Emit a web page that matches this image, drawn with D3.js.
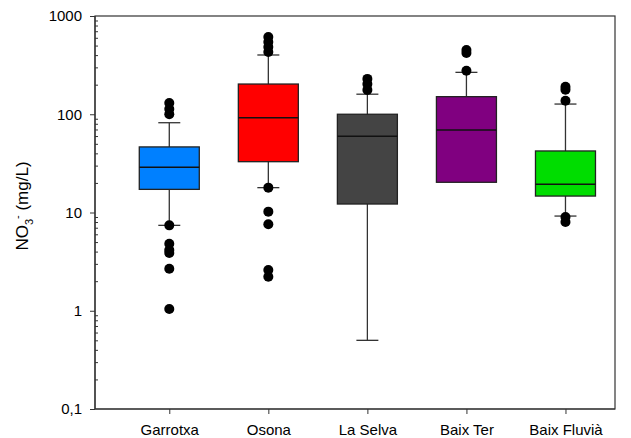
<!DOCTYPE html>
<html>
<head>
<meta charset="utf-8">
<script src="https://cdn.jsdelivr.net/npm/d3@7"></script>
<style>
  body { margin: 0; background: #fff; overflow: hidden; }
  svg { display: block; }
  text { font-family: Arial, "Liberation Sans", sans-serif; fill: #000; }
</style>
</head>
<body>
<script>
// sites along the x axis
var sites = ["Garrotxa", "Osona", "La Selva", "Baix Ter", "Baix Fluvià"];
var colors = ["#0080ff", "#ff0000", "#444444", "#800080", "#00dd00"];

// box stats (mg/L)
var q1 = [17.2, 32.9, 12.2, 20.3, 14.7];
var medians = [28.8, 92, 59.7, 69, 19.4];
var q3 = [46.5, 203, 100, 151, 42.3];
var whiskLow = [7.4, 17.9, 0.5, 20.3, 9.2];
var whiskHigh = [82, 401, 160, 267, 127];

// outliers per site
var outliers = [
  [130, 113, 100, 7.4, 4.8, 4.15, 3.88, 2.68, 1.04],
  [611, 544, 484, 430, 17.9, 10.2, 7.6, 2.6, 2.22],
  [229, 203, 177],
  [450, 420, 277],
  [190, 178, 137, 9.0, 8.0]
];

var majorTicks = [0.1, 1, 10, 100, 1000];
var majorLabels = ["0,1", "1", "10", "100", "1000"];

var w = 631, h = 438;
var pLeft = 95, pRight = 615, pTop = 16, pBottom = 409;

var svg = d3.select("body").append("svg")
  .attr("width", w)
  .attr("height", h);

var x = d3.scaleLinear().domain([0.25, 5.5]).range([pLeft, pRight]);
var y = d3.scaleLog().domain([0.1, 1000]).range([pBottom, pTop]);

var boxW = 60, capW = 22;

// frame
svg.append("rect")
  .attr("x", pLeft).attr("y", pTop)
  .attr("width", pRight - pLeft).attr("height", pBottom - pTop)
  .style("fill", "none").style("stroke", "#333").style("stroke-width", 1.2);

var g = svg.selectAll(".site")
  .data(sites)
  .enter()
  .append("g")
  .attr("class", "site");

// whiskers
g.append("line")
  .attr("x1", function(d, i){ return x(i + 1); })
  .attr("x2", function(d, i){ return x(i + 1); })
  .attr("y1", function(d, i){ return y(whiskLow[i]); })
  .attr("y2", function(d, i){ return y(whiskHigh[i]); })
  .style("stroke", "#333").style("stroke-width", 1.3);

g.append("line")
  .attr("x1", function(d, i){ return x(i + 1) - capW / 2; })
  .attr("x2", function(d, i){ return x(i + 1) + capW / 2; })
  .attr("y1", function(d, i){ return y(whiskHigh[i]); })
  .attr("y2", function(d, i){ return y(whiskHigh[i]); })
  .style("stroke", "#333").style("stroke-width", 1.3);

g.filter(function(d, i){ return whiskLow[i] < q1[i]; })
  .append("line")
  .attr("x1", function(d){ return x(sites.indexOf(d) + 1) - capW / 2; })
  .attr("x2", function(d){ return x(sites.indexOf(d) + 1) + capW / 2; })
  .attr("y1", function(d){ return y(whiskLow[sites.indexOf(d)]); })
  .attr("y2", function(d){ return y(whiskLow[sites.indexOf(d)]); })
  .style("stroke", "#333").style("stroke-width", 1.3);

// boxes
g.append("rect")
  .attr("x", function(d, i){ return x(i + 1) - boxW / 2; })
  .attr("y", function(d, i){ return y(q3[i]); })
  .attr("width", boxW)
  .attr("height", function(d, i){ return y(q1[i]) - y(q3[i]); })
  .style("fill", function(d, i){ return colors[i]; })
  .style("stroke", "#222").style("stroke-width", 1.3);

g.append("line")
  .attr("x1", function(d, i){ return x(i + 1) - boxW / 2; })
  .attr("x2", function(d, i){ return x(i + 1) + boxW / 2; })
  .attr("y1", function(d, i){ return y(medians[i]); })
  .attr("y2", function(d, i){ return y(medians[i]); })
  .style("stroke", "#111").style("stroke-width", 1.5);

// outlier dots
g.each(function(d, i){
  d3.select(this).selectAll("circle")
    .data(outliers[i])
    .enter()
    .append("circle")
    .attr("cx", x(i + 1))
    .attr("cy", function(v){ return y(v); })
    .attr("r", 5)
    .style("fill", "#000");
});

// y axis
var minorTicks = [];
[0.1, 1, 10, 100].forEach(function(b){
  for (var k = 2; k <= 9; k++) minorTicks.push(b * k);
});

var yAxis = d3.axisLeft(y)
  .tickValues(majorTicks)
  .tickSize(5)
  .tickPadding(8)
  .tickFormat(function(d, i){ return majorLabels[i]; });

var yg = svg.append("g")
  .attr("transform", "translate(" + pLeft + ",0)")
  .call(yAxis);

var yMinor = svg.append("g")
  .attr("transform", "translate(" + pLeft + ",0)")
  .call(d3.axisRight(y).tickValues(minorTicks).tickSize(3).tickFormat(""));
yMinor.select(".domain").remove();

// x axis
var xAxis = d3.axisBottom(x)
  .tickValues([1, 2, 3, 4, 5])
  .tickSize(5)
  .tickPadding(10)
  .tickFormat(function(d){ return sites[d - 1]; });

var xg = svg.append("g")
  .attr("transform", "translate(0," + pBottom + ")")
  .call(xAxis);

svg.selectAll(".domain").style("stroke", "#333").style("stroke-width", 1.2);
svg.selectAll(".tick line").style("stroke", "#333");
svg.selectAll(".tick text")
  .style("font-size", "15px")
  .style("font-family", "Arial, 'Liberation Sans', sans-serif")
  .style("fill", "#000");
yg.select(".domain").attr("d", "M0," + pBottom + "V" + pTop);
xg.select(".domain").attr("d", "M" + pLeft + ",0H" + pRight);

// y title
var title = svg.append("text")
  .attr("transform", "translate(28,206) rotate(-90)")
  .attr("text-anchor", "middle")
  .style("font-size", "17px");
title.append("tspan").text("NO");
title.append("tspan").attr("dy", 5).style("font-size", "11px").text("3");
title.append("tspan").attr("dy", -12).style("font-size", "11px").text("-");
title.append("tspan").attr("dy", 7).text(" (mg/L)");
</script>
</body>
</html>
